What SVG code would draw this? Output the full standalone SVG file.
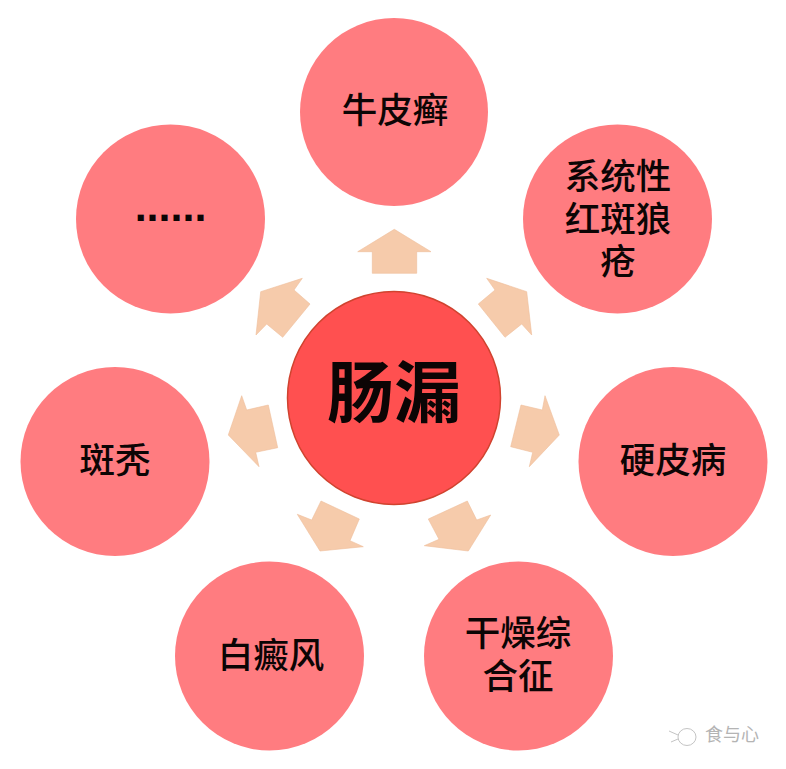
<svg xmlns="http://www.w3.org/2000/svg" width="786" height="769" viewBox="0 0 786 769">
<style>
.n{fill:#ff7c80}
.a{fill:#f6cbab;stroke:#eebd9b;stroke-width:.6}
text{font-family:"Noto Sans CJK SC","Liberation Sans",sans-serif;text-anchor:middle;fill:#0c0505}
.t{font-size:35.500px;font-weight:500}
.c{font-size:67px;font-weight:700}
.d{font-family:"Liberation Sans",sans-serif;font-size:43px;font-weight:700}
.w{font-size:18px;fill:#b4b4b4;font-weight:400}
.l{fill:none;stroke:#c4c4c4;stroke-width:1}
</style>
<rect width="786" height="769" fill="#fff"/>
<g id="connectors">
<polygon class="a" points="394.3,229.3 431,251.7 416.7,251.7 416.7,273.3 372.3,273.3 372.3,251.7 357.7,251.7"/>
<polygon class="a" points="486.7,278.3 526.7,291.7 531.7,335 521.7,324 505,337.3 478.3,304 495,290"/>
<polygon class="a" points="545,395.7 559.3,435 529.3,466.7 532.7,452.3 510.7,446.7 521,405 542.3,410"/>
<polygon class="a" points="490.7,515 468.3,551 424.3,545.7 439,539.3 428.3,519 467.3,501 476.7,520"/>
<polygon class="a" points="297.3,514.3 320,551 363.3,546.7 350,540.7 359.3,519 321,501 311.7,520"/>
<polygon class="a" points="241.7,395.7 228.3,435 259,466.7 255.7,452.3 277.7,447.7 268.3,405 246.7,410"/>
<polygon class="a" points="302.3,278.3 260.7,291.700 256,335 266.7,324 282.7,337.3 310,304 294,290"/>
</g>
<g id="center"><circle cx="394" cy="398" r="106.500" fill="#ff5050" stroke="#d0432f" stroke-width="1.500"/><text class="c" x="394" y="417">肠漏</text></g>
<g id="n1"><circle class="n" cx="394" cy="112" r="94"/><text class="t" x="395" y="123">牛皮癣</text></g>
<g id="n2"><circle class="n" cx="617.500" cy="219" r="94.500"/><text class="t" x="618" y="189">系统性<tspan x="618" y="232">红斑狼</tspan><tspan x="618" y="274">疮</tspan></text></g>
<g id="n3"><circle class="n" cx="673" cy="461.500" r="94.500"/><text class="t" x="673" y="473">硬皮病</text></g>
<g id="n4"><circle class="n" cx="518.500" cy="656" r="94.500"/><text class="t" x="518" y="646">干燥综<tspan x="518" y="689">合征</tspan></text></g>
<g id="n5"><circle class="n" cx="269.500" cy="656" r="94.500"/><text class="t" x="271" y="668">白癜风</text></g>
<g id="n6"><circle class="n" cx="115" cy="461.500" r="94.500"/><text class="t" x="115" y="473">斑秃</text></g>
<g id="n7"><circle class="n" cx="170.500" cy="219" r="94.500"/><text class="d" x="170.500" y="221">......</text></g>
<g id="watermark">
<ellipse class="l" cx="687" cy="737" rx="9" ry="8.500"/>
<path class="l" d="M678 735L669 731M678 739L671 742"/>
<text class="w" x="732" y="741">食与心</text>
</g>
</svg>
